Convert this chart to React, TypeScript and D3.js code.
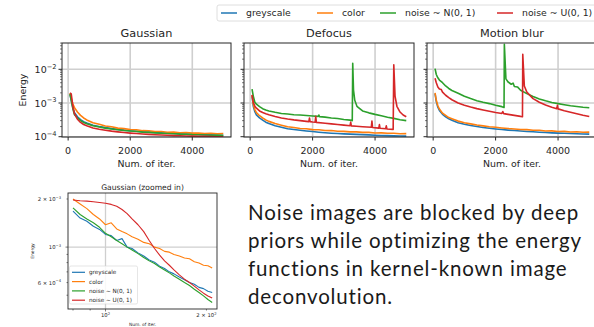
import { useRef, useEffect } from "react";
import * as d3 from "d3";

// tab10 colours, in legend order
const SERIES_COLORS = ["#1f77b4", "#ff7f0e", "#2ca02c", "#d62728"];
const SERIES_LABELS = ["greyscale", "color", "noise ~ N(0, 1)", "noise ~ U(0, 1)"];
const PANEL_TITLES = ["Gaussian", "Defocus", "Motion blur"];
const X_TICKS = [0, 2000, 4000];
const Y_EXPONENTS = [-4, -3, -2];

const ITERS = [60, 100, 150, 200, 300, 400, 500, 600, 800, 1000, 1200, 1400, 1600, 1800, 2000,
  2200, 2400, 2600, 2800, 3000, 3200, 3400, 3600, 3800, 4000, 4200, 4400, 4600, 4800, 5000];

// Gaussian
const gaussGrey = [1.8e-3, 1.19e-3, 7.3e-4, 5.2e-4, 3.9e-4, 3.2e-4, 2.8e-4, 2.55e-4, 2.2e-4, 2.0e-4,
  1.86e-4, 1.74e-4, 1.63e-4, 1.57e-4, 1.5e-4, 1.45e-4, 1.41e-4, 1.37e-4, 1.33e-4, 1.3e-4,
  1.27e-4, 1.24e-4, 1.22e-4, 1.2e-4, 1.18e-4, 1.16e-4, 1.14e-4, 1.13e-4, 1.12e-4, 1.1e-4];
const gaussColor = [1.95e-3, 1.4e-3, 9.5e-4, 7.4e-4, 5.4e-4, 4.3e-4, 3.6e-4, 3.15e-4, 2.6e-4, 2.35e-4,
  2.08e-4, 1.98e-4, 1.8e-4, 1.74e-4, 1.63e-4, 1.6e-4, 1.51e-4, 1.5e-4, 1.42e-4, 1.43e-4,
  1.36e-4, 1.37e-4, 1.31e-4, 1.33e-4, 1.28e-4, 1.29e-4, 1.24e-4, 1.27e-4, 1.22e-4, 1.24e-4];
const gaussNoiseN = [1.85e-3, 1.22e-3, 7.0e-4, 4.6e-4, 3.6e-4, 3.0e-4, 2.65e-4, 2.42e-4, 2.12e-4, 1.95e-4,
  1.8e-4, 1.7e-4, 1.6e-4, 1.52e-4, 1.47e-4, 1.42e-4, 1.37e-4, 1.34e-4, 1.3e-4, 1.27e-4,
  1.24e-4, 1.22e-4, 1.19e-4, 1.18e-4, 1.15e-4, 1.14e-4, 1.12e-4, 1.11e-4, 1.1e-4, 1.09e-4];
const gaussNoiseU = [2.0e-3, 1.87e-3, 8.3e-4, 4.9e-4, 3.3e-4, 2.65e-4, 2.3e-4, 2.1e-4, 1.82e-4, 1.66e-4,
  1.55e-4, 1.46e-4, 1.39e-4, 1.33e-4, 1.28e-4, 1.24e-4, 1.2e-4, 1.17e-4, 1.14e-4, 1.12e-4,
  1.1e-4, 1.08e-4, 1.07e-4, 1.05e-4, 1.04e-4, 1.03e-4, 1.02e-4, 1.01e-4, 1.0e-4, 0.99e-4];

// Defocus
const defocusGrey = [1.6e-3, 8.0e-4, 5.5e-4, 4.4e-4, 3.6e-4, 3.1e-4, 2.7e-4, 2.45e-4, 2.1e-4, 1.9e-4,
  1.72e-4, 1.63e-4, 1.55e-4, 1.48e-4, 1.42e-4, 1.36e-4, 1.31e-4, 1.27e-4, 1.24e-4, 1.21e-4,
  1.19e-4, 1.17e-4, 1.15e-4, 1.13e-4, 1.11e-4, 1.09e-4, 1.08e-4, 1.06e-4, 1.05e-4, 1.04e-4];
const defocusColor = [1.7e-3, 9.2e-4, 6.4e-4, 5.2e-4, 4.2e-4, 3.6e-4, 3.15e-4, 2.85e-4, 2.45e-4, 2.2e-4,
  1.98e-4, 1.88e-4, 1.76e-4, 1.72e-4, 1.62e-4, 1.6e-4, 1.53e-4, 1.52e-4, 1.45e-4, 1.44e-4,
  1.39e-4, 1.39e-4, 1.34e-4, 1.34e-4, 1.29e-4, 1.3e-4, 1.26e-4, 1.26e-4, 1.22e-4, 1.23e-4];
const defocusNoiseN: [number, number][] = [[60, 2.6e-3], [100, 1.6e-3], [150, 1.05e-3], [200, 9.2e-4],
  [300, 7.8e-4], [400, 6.8e-4], [500, 6.2e-4], [600, 5.8e-4], [800, 5.3e-4], [1000, 4.9e-4],
  [1200, 4.7e-4], [1400, 4.5e-4], [1600, 4.4e-4], [1800, 4.25e-4], [2000, 4.1e-4], [2180, 4.0e-4],
  [2200, 4.4e-4], [2220, 3.95e-4], [2400, 3.8e-4], [2600, 3.6e-4], [2800, 3.45e-4], [3000, 3.25e-4],
  [3200, 3.1e-4], [3270, 3.0e-4], [3285, 1.5e-2], [3310, 2.4e-3], [3350, 1.2e-3], [3420, 8.0e-4],
  [3600, 5.8e-4], [3800, 5.1e-4], [4000, 4.6e-4], [4200, 4.2e-4], [4400, 3.8e-4], [4600, 3.5e-4],
  [4800, 3.2e-4], [5000, 3.0e-4]];
const defocusNoiseU: [number, number][] = [[60, 1.75e-3], [100, 1.05e-3], [150, 8.0e-4], [200, 7.0e-4],
  [300, 5.8e-4], [400, 5.2e-4], [500, 4.8e-4], [600, 4.5e-4], [800, 4.0e-4], [1000, 3.6e-4],
  [1200, 3.35e-4], [1400, 3.15e-4], [1600, 3.0e-4], [1800, 2.85e-4], [1880, 2.8e-4], [1900, 3.6e-4],
  [1920, 2.8e-4], [2000, 2.72e-4], [2080, 2.68e-4], [2100, 4.0e-4], [2120, 2.66e-4], [2400, 2.5e-4],
  [2600, 2.4e-4], [2800, 2.3e-4], [3000, 2.2e-4], [3200, 2.12e-4], [3220, 2.7e-4], [3240, 2.1e-4],
  [3400, 2.05e-4], [3600, 1.98e-4], [3880, 1.9e-4], [3900, 2.9e-4], [3920, 1.88e-4], [4120, 1.8e-4],
  [4140, 2.3e-4], [4160, 1.78e-4], [4340, 1.72e-4], [4360, 2.1e-4], [4380, 1.7e-4], [4580, 1.65e-4],
  [4600, 1.35e-2], [4640, 1.6e-3], [4700, 8.0e-4], [4800, 5.4e-4], [4900, 4.4e-4], [5000, 3.9e-4]];

// Motion blur
const motionGrey = [1.9e-3, 1.1e-3, 7.5e-4, 6.0e-4, 4.6e-4, 3.9e-4, 3.4e-4, 3.1e-4, 2.6e-4, 2.35e-4,
  2.15e-4, 2.0e-4, 1.88e-4, 1.78e-4, 1.7e-4, 1.63e-4, 1.57e-4, 1.52e-4, 1.47e-4, 1.43e-4,
  1.4e-4, 1.36e-4, 1.33e-4, 1.3e-4, 1.28e-4, 1.26e-4, 1.24e-4, 1.22e-4, 1.2e-4, 1.19e-4];
const motionColor = [2.0e-3, 1.2e-3, 8.3e-4, 6.6e-4, 5.0e-4, 4.3e-4, 3.7e-4, 3.4e-4, 2.9e-4, 2.6e-4,
  2.4e-4, 2.22e-4, 2.1e-4, 1.97e-4, 1.9e-4, 1.82e-4, 1.75e-4, 1.7e-4, 1.64e-4, 1.62e-4,
  1.55e-4, 1.55e-4, 1.48e-4, 1.49e-4, 1.43e-4, 1.44e-4, 1.38e-4, 1.4e-4, 1.35e-4, 1.37e-4];
const motionNoiseN: [number, number][] = [[60, 1.05e-2], [100, 7.0e-3], [150, 5.6e-3], [200, 4.8e-3],
  [300, 4.0e-3], [400, 3.2e-3], [500, 2.7e-3], [600, 2.35e-3], [800, 1.95e-3], [1000, 1.58e-3],
  [1200, 1.35e-3], [1400, 1.17e-3], [1600, 1.05e-3], [1800, 9.6e-4], [2000, 8.6e-4], [2200, 7.8e-4],
  [2270, 7.4e-4], [2280, 5.5e-2], [2330, 5.2e-3], [2400, 4.2e-3], [2500, 3.6e-3], [2560, 3.9e-3],
  [2600, 3.1e-3], [2700, 3.0e-3], [2800, 2.4e-3], [3000, 1.9e-3], [3200, 1.55e-3], [3400, 1.32e-3],
  [3600, 1.16e-3], [3800, 1.04e-3], [4000, 9.6e-4], [4200, 8.9e-4], [4400, 8.3e-4], [4600, 7.9e-4],
  [4800, 7.5e-4], [5000, 7.2e-4]];
const motionNoiseU: [number, number][] = [[60, 5.4e-3], [100, 4.0e-3], [150, 3.0e-3], [200, 2.6e-3],
  [260, 2.5e-3], [300, 2.1e-3], [400, 1.7e-3], [500, 1.45e-3], [600, 1.25e-3], [800, 1.0e-3],
  [1000, 8.6e-4], [1200, 7.6e-4], [1400, 6.8e-4], [1600, 6.2e-4], [1800, 5.7e-4], [2000, 5.25e-4],
  [2200, 4.9e-4], [2230, 5.6e-4], [2260, 4.85e-4], [2400, 4.6e-4], [2600, 4.3e-4], [2800, 4.0e-4],
  [2860, 3.9e-4], [2870, 2.8e-2], [2920, 3.2e-3], [3000, 2.1e-3], [3200, 1.35e-3], [3400, 1.05e-3],
  [3600, 8.7e-4], [3800, 7.5e-4], [3960, 6.8e-4], [3980, 8.5e-4], [4000, 6.7e-4], [4200, 5.9e-4],
  [4400, 5.3e-4], [4600, 4.8e-4], [4800, 4.35e-4], [5000, 4.0e-4]];

// Gaussian (zoomed in)
const ZOOM_ITERS = [80, 84, 88, 92, 96, 100, 104, 108, 112, 116, 120, 125, 130, 135, 140,
  145, 150, 155, 160, 166, 172, 178, 184, 190, 196, 202, 208];
const zoomGrey = [1.68e-3, 1.52e-3, 1.45e-3, 1.35e-3, 1.29e-3, 1.2e-3, 1.18e-3, 1.1e-3, 1.13e-3, 1.0e-3,
  9.8e-4, 9.2e-4, 8.8e-4, 8.3e-4, 8.05e-4, 7.6e-4, 7.35e-4, 7.0e-4, 6.8e-4, 6.5e-4,
  6.25e-4, 6.0e-4, 5.85e-4, 5.6e-4, 5.5e-4, 5.3e-4, 5.2e-4];
const zoomColor = [2.0e-3, 1.86e-3, 1.74e-3, 1.6e-3, 1.5e-3, 1.38e-3, 1.42e-3, 1.3e-3, 1.25e-3, 1.21e-3,
  1.16e-3, 1.12e-3, 1.07e-3, 1.05e-3, 1.0e-3, 9.8e-4, 9.4e-4, 9.3e-4, 9.0e-4, 8.8e-4,
  8.55e-4, 8.45e-4, 8.1e-4, 7.95e-4, 7.7e-4, 7.65e-4, 7.4e-4];
const zoomNoiseN = [1.76e-3, 1.6e-3, 1.5e-3, 1.42e-3, 1.33e-3, 1.22e-3, 1.16e-3, 1.1e-3, 1.05e-3, 1.0e-3,
  9.6e-4, 9.1e-4, 8.6e-4, 8.2e-4, 7.9e-4, 7.5e-4, 7.2e-4, 6.9e-4, 6.6e-4, 6.3e-4,
  6.0e-4, 5.75e-4, 5.45e-4, 5.2e-4, 4.95e-4, 4.7e-4, 4.5e-4];
const zoomNoiseU = [1.97e-3, 1.95e-3, 1.94e-3, 1.92e-3, 1.9e-3, 1.88e-3, 1.85e-3, 1.8e-3, 1.72e-3, 1.62e-3,
  1.5e-3, 1.38e-3, 1.25e-3, 1.1e-3, 9.8e-4, 8.9e-4, 8.2e-4, 7.7e-4, 7.2e-4, 6.7e-4,
  6.3e-4, 6.0e-4, 5.7e-4, 5.4e-4, 5.15e-4, 4.95e-4, 4.8e-4];

const PARAGRAPH = [
  "Noise images are blocked by deep",
  "priors while optimizing the energy",
  "functions in kernel-known image",
  "deconvolution.",
];

const zip = (xs: number[], ys: number[]) => xs.map((x, i) => [x, ys[i]] as [number, number]);

const PANELS: [number, number][][][] = [
  [zip(ITERS, gaussGrey), zip(ITERS, gaussColor), zip(ITERS, gaussNoiseN), zip(ITERS, gaussNoiseU)],
  [zip(ITERS, defocusGrey), zip(ITERS, defocusColor), defocusNoiseN, defocusNoiseU],
  [zip(ITERS, motionGrey), zip(ITERS, motionColor), motionNoiseN, motionNoiseU],
];
const ZOOM_SERIES = [zip(ZOOM_ITERS, zoomGrey), zip(ZOOM_ITERS, zoomColor), zip(ZOOM_ITERS, zoomNoiseN), zip(ZOOM_ITERS, zoomNoiseU)];

const FONT = "DejaVu Sans, sans-serif";

// text like 10^-3 or 2 × 10^-3 with a raised exponent
function powLabel(sel: d3.Selection<SVGTextElement, unknown, null, undefined>, mant: string, exp: string, size: number) {
  sel.append("tspan").text(mant + "10");
  sel.append("tspan").attr("dy", -size * 0.45).attr("font-size", size * 0.7).text(exp);
}

export default function App() {
  const svgRef = useRef<SVGSVGElement>(null);

  useEffect(() => {
    if (!svgRef.current) return;
    const svg = d3.select(svgRef.current);
    svg.selectAll("*").remove();

    const frames = [{ x0: 62, x1: 231 }, { x0: 244, x1: 414 }, { x0: 427, x1: 597 }];
    const top = 43, bottom = 137;
    const y = d3.scaleLog().domain([9.8e-5, 0.0603]).range([bottom, top]);
    const minorY = d3.range(-5, -1).flatMap((e) => d3.range(2, 10).map((m) => m * 10 ** e))
      .filter((v) => v > y.domain()[0] && v < y.domain()[1]);

    frames.forEach((f, pi) => {
      const x = d3.scaleLinear().domain([-197.5, 5247.5]).range([f.x0, f.x1]);
      const g = svg.append("g");
      const clipId = `clip-top-${pi}`;
      g.append("clipPath").attr("id", clipId)
        .append("rect").attr("x", f.x0).attr("y", top).attr("width", f.x1 - f.x0).attr("height", bottom - top);

      // grid
      g.selectAll(".gx").data(X_TICKS).enter().append("line")
        .attr("x1", (d) => x(d)).attr("x2", (d) => x(d)).attr("y1", top).attr("y2", bottom)
        .attr("stroke", "#cfcfcf").attr("stroke-width", 1.6);
      g.selectAll(".gy").data(Y_EXPONENTS).enter().append("line")
        .attr("x1", f.x0).attr("x2", f.x1).attr("y1", (d) => y(10 ** d)).attr("y2", (d) => y(10 ** d))
        .attr("stroke", "#cfcfcf").attr("stroke-width", 1.6);

      const line = d3.line<[number, number]>().x((d) => x(d[0])).y((d) => y(d[1]));
      const lines = g.append("g").attr("clip-path", `url(#${clipId})`);
      PANELS[pi].forEach((s, si) => {
        lines.append("path").datum(s).attr("d", line).attr("fill", "none")
          .attr("stroke", SERIES_COLORS[si]).attr("stroke-width", 1.6).attr("stroke-linejoin", "round");
      });

      g.append("rect").attr("x", f.x0).attr("y", top).attr("width", f.x1 - f.x0).attr("height", bottom - top)
        .attr("fill", "none").attr("stroke", "#262626").attr("stroke-width", 1);

      // x ticks
      X_TICKS.forEach((t) => {
        g.append("line").attr("x1", x(t)).attr("x2", x(t)).attr("y1", bottom).attr("y2", bottom + 3.5).attr("stroke", "#262626");
        g.append("text").attr("x", x(t)).attr("y", bottom + 17).attr("text-anchor", "middle")
          .attr("font-family", FONT).attr("font-size", 9.5).attr("fill", "#262626").text(String(t));
      });
      // y ticks
      Y_EXPONENTS.forEach((e) => {
        g.append("line").attr("x1", f.x0).attr("x2", f.x0 - 3.5).attr("y1", y(10 ** e)).attr("y2", y(10 ** e)).attr("stroke", "#262626");
        if (pi === 0) {
          const t = g.append("text").attr("x", f.x0 - 5.5).attr("y", y(10 ** e) + 3.5).attr("text-anchor", "end")
            .attr("font-family", FONT).attr("font-size", 9.5).attr("fill", "#262626");
          powLabel(t, "", `−${-e}`, 9.5);
        }
      });
      minorY.forEach((v) => {
        g.append("line").attr("x1", f.x0).attr("x2", f.x0 - 2).attr("y1", y(v)).attr("y2", y(v))
          .attr("stroke", "#262626").attr("stroke-width", 0.6);
      });

      g.append("text").attr("x", (f.x0 + f.x1) / 2).attr("y", 37).attr("text-anchor", "middle")
        .attr("font-family", FONT).attr("font-size", 11.3).attr("fill", "#262626").text(PANEL_TITLES[pi]);
      g.append("text").attr("x", (f.x0 + f.x1) / 2).attr("y", 166.5).attr("text-anchor", "middle")
        .attr("font-family", FONT).attr("font-size", 9.4).attr("fill", "#262626").text("Num. of iter.");
    });

    svg.append("text").attr("transform", `translate(26,${(top + bottom) / 2}) rotate(-90)`)
      .attr("text-anchor", "middle").attr("font-family", FONT).attr("font-size", 9.4).attr("fill", "#262626").text("Energy");

    // top legend
    const lg = svg.append("g");
    lg.append("rect").attr("x", 217).attr("y", 5).attr("width", 384).attr("height", 16).attr("rx", 2)
      .attr("fill", "white").attr("stroke", "#d5d5d5").attr("stroke-width", 0.8);
    const legendX = [221, 317, 380, 497];
    SERIES_LABELS.forEach((lab, i) => {
      lg.append("line").attr("x1", legendX[i]).attr("x2", legendX[i] + 16).attr("y1", 13).attr("y2", 13)
        .attr("stroke", SERIES_COLORS[i]).attr("stroke-width", 1.5);
      lg.append("text").attr("x", legendX[i] + 25).attr("y", 16.3).attr("font-family", FONT).attr("font-size", 9.3)
        .attr("fill", "#262626").text(lab);
    });

    // zoomed-in panel
    const zx0 = 68, zx1 = 217, zt = 193, zb = 309;
    const zxs = d3.scaleLog().domain([77.3, 215]).range([zx0, zx1]);
    const zys = d3.scaleLog().domain([4.1e-4, 2.18e-3]).range([zb, zt]);
    const zg = svg.append("g");
    zg.append("clipPath").attr("id", "clip-zoom")
      .append("rect").attr("x", zx0).attr("y", zt).attr("width", zx1 - zx0).attr("height", zb - zt);
    zg.append("line").attr("x1", zxs(100)).attr("x2", zxs(100)).attr("y1", zt).attr("y2", zb)
      .attr("stroke", "#cfcfcf").attr("stroke-width", 1.3);
    zg.append("line").attr("x1", zx0).attr("x2", zx1).attr("y1", zys(1e-3)).attr("y2", zys(1e-3))
      .attr("stroke", "#cfcfcf").attr("stroke-width", 1.3);
    const zline = d3.line<[number, number]>().x((d) => zxs(d[0])).y((d) => zys(d[1]));
    const zl = zg.append("g").attr("clip-path", "url(#clip-zoom)");
    ZOOM_SERIES.forEach((s, si) => {
      zl.append("path").datum(s).attr("d", zline).attr("fill", "none")
        .attr("stroke", SERIES_COLORS[si]).attr("stroke-width", 1.1).attr("stroke-linejoin", "round");
    });
    zg.append("rect").attr("x", zx0).attr("y", zt).attr("width", zx1 - zx0).attr("height", zb - zt)
      .attr("fill", "none").attr("stroke", "#262626").attr("stroke-width", 0.9);

    // zoom ticks
    [80, 90, 100, 200].forEach((v) => {
      zg.append("line").attr("x1", zxs(v)).attr("x2", zxs(v)).attr("y1", zb).attr("y2", zb + (v === 100 ? 2.5 : 1.5))
        .attr("stroke", "#262626").attr("stroke-width", 0.6);
    });
    [5e-4, 6e-4, 7e-4, 8e-4, 9e-4, 1e-3, 2e-3].forEach((v) => {
      zg.append("line").attr("x1", zx0).attr("x2", zx0 - (v === 1e-3 ? 2.5 : 1.5)).attr("y1", zys(v)).attr("y2", zys(v))
        .attr("stroke", "#262626").attr("stroke-width", 0.6);
    });
    const zfs = 5.3;
    const zyLabels: [number, string, string][] = [[2e-3, "2 × ", "−3"], [1e-3, "", "−3"], [6e-4, "6 × ", "−4"]];
    zyLabels.forEach(([v, m, e]) => {
      const t = zg.append("text").attr("x", 61).attr("y", zys(v) + 2).attr("text-anchor", "end")
        .attr("font-family", FONT).attr("font-size", zfs).attr("fill", "#262626");
      powLabel(t, m, e, zfs);
    });
    const zxLabels: [number, string, string][] = [[100, "", "2"], [200, "2 × ", "2"]];
    zxLabels.forEach(([v, m, e]) => {
      const t = zg.append("text").attr("x", zxs(v)).attr("y", zb + 8).attr("text-anchor", "middle")
        .attr("font-family", FONT).attr("font-size", zfs).attr("fill", "#262626");
      powLabel(t, m, e, zfs);
    });
    zg.append("text").attr("x", (zx0 + zx1) / 2).attr("y", 190).attr("text-anchor", "middle")
      .attr("font-family", FONT).attr("font-size", 7.6).attr("fill", "#262626").text("Gaussian (zoomed in)");
    zg.append("text").attr("x", (zx0 + zx1) / 2).attr("y", 325.5).attr("text-anchor", "middle")
      .attr("font-family", FONT).attr("font-size", 4.4).attr("fill", "#262626").text("Num. of iter.");
    zg.append("text").attr("transform", `translate(33.5,${(zt + zb) / 2}) rotate(-90)`).attr("text-anchor", "middle")
      .attr("font-family", FONT).attr("font-size", 4.4).attr("fill", "#262626").text("Energy");

    // zoom legend
    zg.append("rect").attr("x", 69.5).attr("y", 266).attr("width", 68).attr("height", 38).attr("rx", 1.5)
      .attr("fill", "white").attr("fill-opacity", 0.85).attr("stroke", "#d5d5d5").attr("stroke-width", 0.6);
    SERIES_LABELS.forEach((lab, i) => {
      const ly = 272.3 + i * 9.3;
      zg.append("line").attr("x1", 72).attr("x2", 85).attr("y1", ly).attr("y2", ly)
        .attr("stroke", SERIES_COLORS[i]).attr("stroke-width", 1.2);
      zg.append("text").attr("x", 89).attr("y", ly + 2).attr("font-family", FONT).attr("font-size", 5.7)
        .attr("fill", "#262626").text(lab);
    });

    // paragraph
    PARAGRAPH.forEach((s, i) => {
      svg.append("text").attr("x", 248).attr("y", 219.5 + i * 28.3)
        .attr("font-family", "Lato, sans-serif").attr("font-size", 20.5).attr("letter-spacing", 0.85)
        .attr("fill", "#1a1a1a").text(s);
    });
  }, []);

  return (
    <svg ref={svgRef} width={594} height={327} style={{ position: "absolute", left: 0, top: 0, background: "white" }} />
  );
}
